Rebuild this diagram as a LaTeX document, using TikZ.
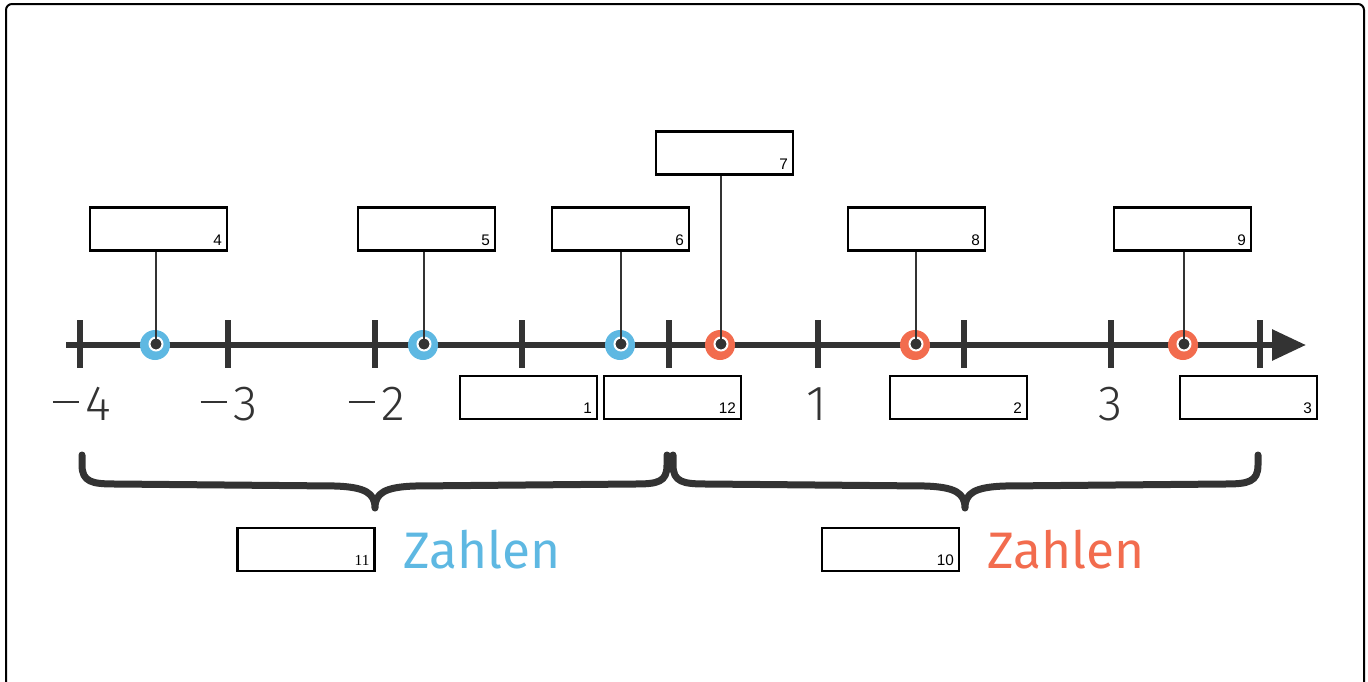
\documentclass[tikz,border=0pt]{standalone}
\usepackage{fontspec}
\setmainfont{Liberation Sans}
\newfontfamily\axisfont{Fira Sans Light}
\newfontfamily\wordfont{Fira Sans}
\newfontfamily\boxserif{Liberation Serif}
\usetikzlibrary{arrows.meta}
\newlength{\du}
\setlength{\du}{0.75pt}
\newcommand{\negsign}{\rule[0.34em]{0.53em}{0.055em}\hspace{0.13em}}
\definecolor{negcolor}{RGB}{94,184,226}
\definecolor{poscolor}{RGB}{242,108,78}
\definecolor{dialinecolor}{RGB}{51,51,51}
\tikzset{
  answerbox/.style={draw=black, line width=2.5\du, minimum width=137\du, minimum height=43\du, inner sep=0pt},
  boxnum/.style={anchor=south east, inner sep=0pt, font=\fontsize{11.5}{11.5}\selectfont},
  tickmark/.style={dialinecolor, line width=6\du},
  ticklabel/.style={anchor=base, inner sep=0pt, text=dialinecolor, font=\axisfont\fontsize{37}{37}\selectfont},
  wordlabel/.style={anchor=base west, inner sep=0pt, font=\wordfont\fontsize{38.5}{38.5}\selectfont},
  leader/.style={dialinecolor, line width=2\du},
  bracepath/.style={dialinecolor, line width=7\du, line cap=round, line join=round},
  dot/.style={circle, minimum size=30\du, inner sep=0pt},
  dotcore/.style={circle, fill=dialinecolor, draw=white, line width=2\du, minimum size=13\du, inner sep=0pt}
}
\begin{document}
\begin{tikzpicture}[x=\du,y=-\du]
\useasboundingbox (0,0) rectangle (1368,682);
% frame
\draw[line width=2\du, rounded corners=6\du] (6,4) rectangle (1364,720);
% axis
\draw[dialinecolor, line width=6\du, -{Triangle[length=25.5pt, width=22.5pt]}] (66,345) -- (1306,345);
\foreach \x/\n in {80/t0,228/t1,375/t2,522/t3,669/t4,818/t5,964/t6,1111/t7,1260/t8}
  \draw[tickmark] (\x,320) coordinate (\n) -- (\x,368);
\node[ticklabel] (l0) at (82,420) {\negsign4};
\node[ticklabel] (l1) at (229,420) {\negsign3};
\node[ticklabel] (l2) at (377,420) {\negsign2};
\node[ticklabel] (l5) at (817,420) {1};
\node[ticklabel] (l7) at (1110,420) {3};
% points
\foreach \x/\c/\n in {155/negcolor/d4,423/negcolor/d5,620/negcolor/d6,720/poscolor/d7,915/poscolor/d8,1183/poscolor/d9}{
  \node[dot, fill=\c] (\n) at (\x,345) {};
  \node[dotcore] (\n c) at ([shift={(1,-1)}]\n.center) {};
}
% boxes
\node[answerbox] (b4) at (158.5,229) {};
\node[answerbox] (b5) at (426.5,229) {};
\node[answerbox] (b6) at (620.5,229) {};
\node[answerbox] (b7) at (724.5,153) {};
\node[answerbox] (b8) at (916.5,229) {};
\node[answerbox] (b9) at (1182.5,229) {};
\node[answerbox] (b1) at (528.5,397.5) {};
\node[answerbox] (b12) at (672.5,397.5) {};
\node[answerbox] (b2) at (958.5,397.5) {};
\node[answerbox] (b3) at (1248.5,397.5) {};
\node[answerbox] (b11) at (306,549.5) {};
\node[answerbox] (b10) at (890.5,549.5) {};
\foreach \n in {1,2,3,4,5,6,7,8,9,10,12}
  \node[boxnum] (b\n num) at ([shift={(-6,-6)}]b\n.south east) {\n};
\node[boxnum, font=\boxserif\fontsize{11.5}{11.5}\selectfont] (b11num) at ([shift={(-6,-6)}]b11.south east) {11};
% leaders
\foreach \n in {4,5,6,7,8,9}
  \draw[leader] (b\n.south -| d\n c) -- (d\n c.center);
% braces
\draw[bracepath] (82,455) -- (82,465) .. controls (82,482) and (92,484) .. (115,484) -- (335,486) .. controls (365,487) and (375,493) .. (375,508) .. controls (375,493) and (385,487) .. (415,486) -- (635,484) .. controls (658,484) and (667,482) .. (667,465) -- (667,455);
\draw[bracepath] (673,455) -- (673,465) .. controls (673,482) and (683,484) .. (706,484) -- (925,486) .. controls (955,487) and (965,493) .. (965,508) .. controls (965,493) and (975,487) .. (1005,486) -- (1225,484) .. controls (1248,484) and (1258,482) .. (1258,465) -- (1258,455);
\node[wordlabel, text=negcolor] (negword) at (403,568) {Zahlen};
\node[wordlabel, text=poscolor] (posword) at (987,568) {Zahlen};
\end{tikzpicture}
\end{document}
